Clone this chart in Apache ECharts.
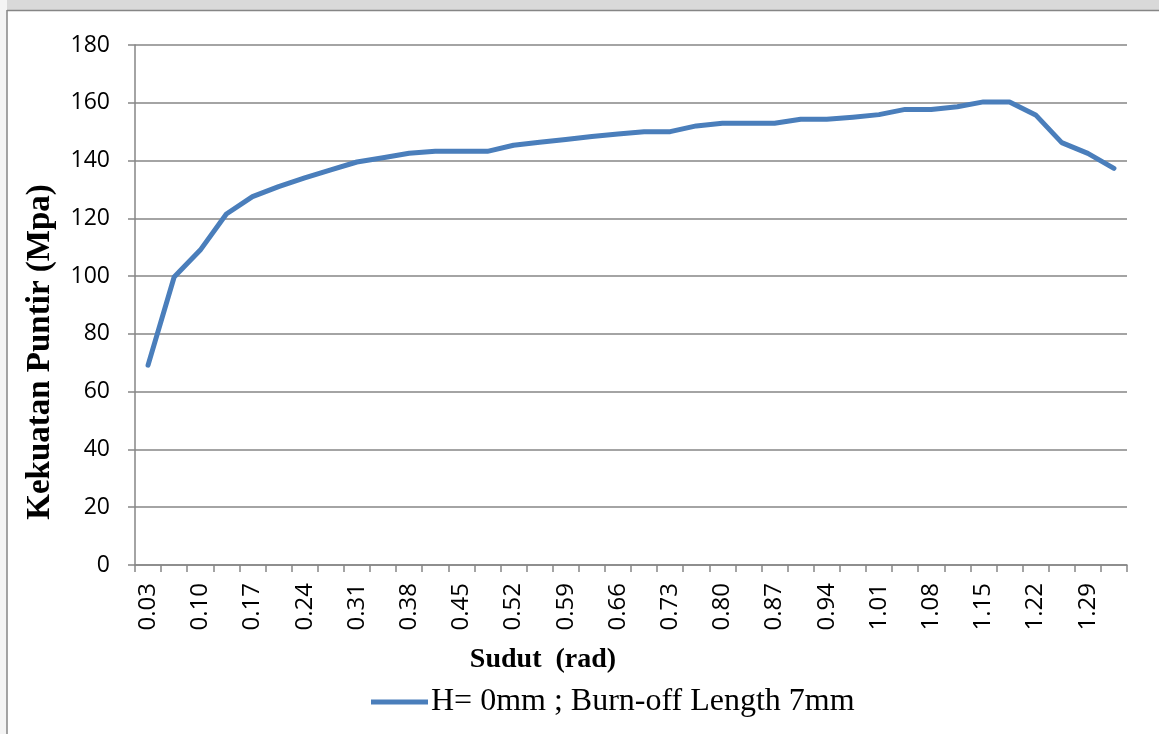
<!DOCTYPE html>
<html>
<head>
<meta charset="utf-8">
<script src="https://cdn.jsdelivr.net/npm/echarts@6/dist/echarts.min.js"></script>
<style>html,body{margin:0;padding:0;background:#fff;}#c{width:1159px;height:734px;}</style>
</head>
<body>
<div id="c"></div>
<script>
const categories = ['0.03','0.07','0.10','0.14','0.17','0.21','0.24','0.28','0.31','0.35','0.38','0.42','0.45','0.49','0.52','0.56','0.59','0.63','0.66','0.70','0.73','0.77','0.80','0.84','0.87','0.91','0.94','0.98','1.01','1.05','1.08','1.12','1.15','1.19','1.22','1.26','1.29','1.33'];
const strength = [69.2, 99.7, 109, 121.5, 127.5, 131, 134, 136.8, 139.5, 141, 142.5, 143.2, 143.2, 143.2, 145.3, 146.3, 147.3, 148.3, 149.2, 150, 150, 152, 152.9, 152.9, 152.9, 154.3, 154.3, 155, 155.9, 157.7, 157.7, 158.6, 160.3, 160.3, 155.8, 146.2, 142.5, 137.3];
const seriesName = 'H= 0mm ; Burn-off Length 7mm';
const xTitle = 'Sudut  (rad)';
const yTitle = 'Kekuatan Puntir (Mpa)';

const chart = echarts.init(document.getElementById('c'), null, {renderer: 'canvas'});
const grey = '#868686';
const serif = '"Liberation Serif", "Times New Roman", serif';
chart.setOption({
  animation: false,
  backgroundColor: '#ffffff',
  graphic: [
    {type: 'rect', left: 0, top: 0, shape: {width: 1159, height: 10}, style: {fill: '#d9d9d9'}, z: -1},
    {type: 'rect', left: 0, top: 0, shape: {width: 7, height: 734}, style: {fill: '#f4f4f4'}, z: -1},
    {type: 'line', shape: {x1: 7, y1: 10.5, x2: 1159, y2: 10.5}, style: {stroke: grey, lineWidth: 1.5}},
    {type: 'line', shape: {x1: 7, y1: 10, x2: 7, y2: 734}, style: {stroke: grey, lineWidth: 1.5}},
    {type: 'text', x: 543, y: 660,
      style: {text: xTitle, font: 'bold 28px ' + serif, fill: '#000', align: 'center', verticalAlign: 'middle'}},
    {type: 'text', x: 40, y: 352, rotation: Math.PI/2,
      style: {text: yTitle, font: 'bold 33px ' + serif, fill: '#000', align: 'center', verticalAlign: 'middle'}}
  ],
  legend: {
    data: [seriesName],
    left: 366, top: 681,
    itemWidth: 57, itemHeight: 5, itemGap: 4,
    icon: 'rect',
    textStyle: {fontFamily: serif, fontSize: 32, color: '#000', padding: [0,0,0,-2]}
  },
  grid: {left: 135, right: 32, top: 45, bottom: 169, containLabel: false},
  xAxis: {
    type: 'category',
    data: categories,
    boundaryGap: true,
    axisLine: {lineStyle: {color: grey, width: 1.5}},
    axisTick: {show: true, alignWithLabel: false, interval: 0, length: 7, lineStyle: {color: grey, width: 1.5}},
    axisLabel: {interval: 1, rotate: 90, margin: 18, fontFamily: '"Open Sans", sans-serif', fontSize: 24, color: '#000'},
    splitLine: {show: false}
  },
  yAxis: {
    type: 'value',
    min: 0, max: 180, interval: 20,
    axisLine: {show: true, lineStyle: {color: grey, width: 1.5}},
    axisTick: {show: true, length: 7, inside: false, lineStyle: {color: grey, width: 1.5}},
    axisLabel: {margin: 25, fontFamily: '"Open Sans", sans-serif', fontSize: 23, color: '#000'},
    splitLine: {show: true, lineStyle: {color: grey, width: 1.5}}
  },
  series: [{
    name: seriesName,
    type: 'line',
    data: strength,
    symbol: 'none',
    lineStyle: {color: '#4a7ebb', width: 5, cap: 'round', join: 'round'},
    itemStyle: {color: '#4a7ebb'}
  }]
});
</script>
</body>
</html>
